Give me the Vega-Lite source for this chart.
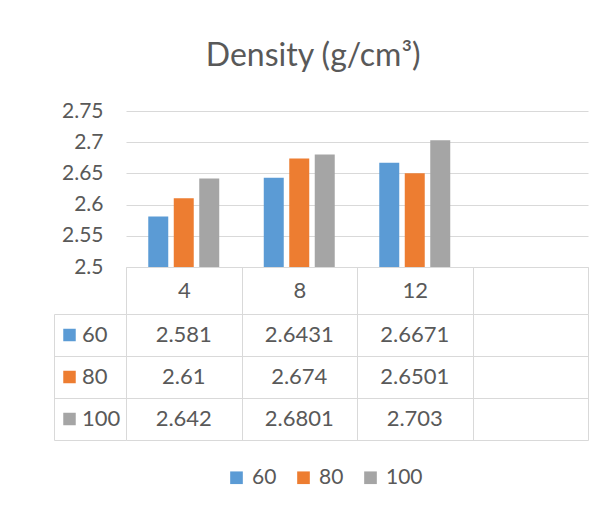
{
  "$schema": "https://vega.github.io/schema/vega-lite/v6.json",
  "background": "white",
  "padding": {"left": 54, "top": 40, "right": 0, "bottom": 0},
  "title": {
    "text": "Density (g/cm³)",
    "anchor": "middle",
    "font": "Lato",
    "fontSize": 32,
    "fontWeight": "normal",
    "color": "#595959",
    "offset": 27,
    "dx": -8
  },
  "config": {
    "view": {"stroke": null},
    "font": "Lato"
  },
  "datasets": {
    "density": [
      {"curing": "4", "series": "60", "density": 2.581},
      {"curing": "4", "series": "80", "density": 2.61},
      {"curing": "4", "series": "100", "density": 2.642},
      {"curing": "8", "series": "60", "density": 2.6431},
      {"curing": "8", "series": "80", "density": 2.674},
      {"curing": "8", "series": "100", "density": 2.6801},
      {"curing": "12", "series": "60", "density": 2.6671},
      {"curing": "12", "series": "80", "density": 2.6501},
      {"curing": "12", "series": "100", "density": 2.703}
    ],
    "series": [
      {"series": "60"},
      {"series": "80"},
      {"series": "100"}
    ]
  },
  "columns": 2,
  "bounds": "flush",
  "align": "each",
  "spacing": {"row": 47, "column": 0},
  "concat": [
    {
      "width": 72,
      "height": 156,
      "data": {"values": []},
      "mark": {"type": "point", "opacity": 0}
    },
    {
      "width": 462,
      "height": 156,
      "data": {"name": "density"},
      "mark": {"type": "bar"},
      "encoding": {
        "x": {
          "field": "curing",
          "type": "nominal",
          "sort": null,
          "scale": {"domain": ["4", "8", "12", " "], "paddingInner": 0, "paddingOuter": 0},
          "axis": {
            "title": null,
            "labelAngle": 0,
            "tickBand": "extent",
            "tickSize": 47,
            "tickColor": "#d9d9d9",
            "domainColor": "#d9d9d9",
            "labelBaseline": "middle",
            "labelPadding": -23.5,
            "labelFont": "Lato",
            "labelFontSize": 22,
            "labelColor": "#595959"
          }
        },
        "xOffset": {
          "field": "series",
          "type": "nominal",
          "scale": {"domain": ["60", "80", "100"], "paddingInner": 0.216, "paddingOuter": 0.873}
        },
        "y": {
          "field": "density",
          "type": "quantitative",
          "scale": {"domain": [2.5, 2.75], "zero": false, "nice": false},
          "axis": {
            "title": null,
            "values": [2.5, 2.55, 2.6, 2.65, 2.7, 2.75],
            "format": "~g",
            "domain": false,
            "ticks": false,
            "labelPadding": 23,
            "labelFont": "Lato",
            "labelFontSize": 21,
            "labelColor": "#595959",
            "gridColor": "#d9d9d9"
          }
        },
        "y2": {"datum": 2.5},
        "color": {
          "field": "series",
          "type": "nominal",
          "scale": {"domain": ["60", "80", "100"], "range": ["#5b9bd5", "#ed7d31", "#a5a5a5"]},
          "legend": {
            "title": null,
            "orient": "none",
            "legendX": 172,
            "legendY": 356,
            "direction": "horizontal",
            "symbolType": "square",
            "symbolSize": 160,
            "symbolStrokeWidth": 0,
            "labelFont": "Lato",
            "labelFontSize": 21,
            "labelColor": "#595959",
            "labelOffset": 5,
            "columnPadding": 16
          }
        }
      }
    },
    {
      "width": 72,
      "height": 126,
      "data": {"name": "series"},
      "encoding": {
        "y": {
          "field": "series",
          "type": "nominal",
          "scale": {"domain": ["60", "80", "100"], "paddingInner": 0, "paddingOuter": 0},
          "axis": {
            "title": null,
            "labels": false,
            "ticks": false,
            "domain": true,
            "domainColor": "#d9d9d9",
            "grid": true,
            "gridColor": "#d9d9d9",
            "tickBand": "extent"
          }
        }
      },
      "layer": [
        {
          "mark": {"type": "square", "size": 156, "opacity": 1, "filled": true, "xOffset": -20.5},
          "encoding": {
            "color": {"field": "series", "type": "nominal"}
          }
        },
        {
          "mark": {"type": "text", "align": "left", "dx": -8, "font": "Lato", "fontSize": 22, "color": "#595959"},
          "encoding": {
            "text": {"field": "series", "type": "nominal"}
          }
        }
      ]
    },
    {
      "width": 462,
      "height": 126,
      "data": {"name": "density"},
      "mark": {"type": "text", "font": "Lato", "fontSize": 22, "color": "#595959"},
      "encoding": {
        "x": {
          "field": "curing",
          "type": "nominal",
          "sort": null,
          "scale": {"domain": ["4", "8", "12", " "], "paddingInner": 0, "paddingOuter": 0},
          "axis": {
            "title": null,
            "orient": "top",
            "labels": false,
            "ticks": false,
            "domain": false,
            "grid": true,
            "gridColor": "#d9d9d9",
            "tickBand": "extent"
          }
        },
        "y": {
          "field": "series",
          "type": "nominal",
          "scale": {"domain": ["60", "80", "100"], "paddingInner": 0, "paddingOuter": 0},
          "axis": {
            "title": null,
            "labels": false,
            "ticks": false,
            "domain": false,
            "grid": true,
            "gridColor": "#d9d9d9",
            "tickBand": "extent"
          }
        },
        "text": {"field": "density", "type": "quantitative", "format": "~g"}
      }
    }
  ]
}
